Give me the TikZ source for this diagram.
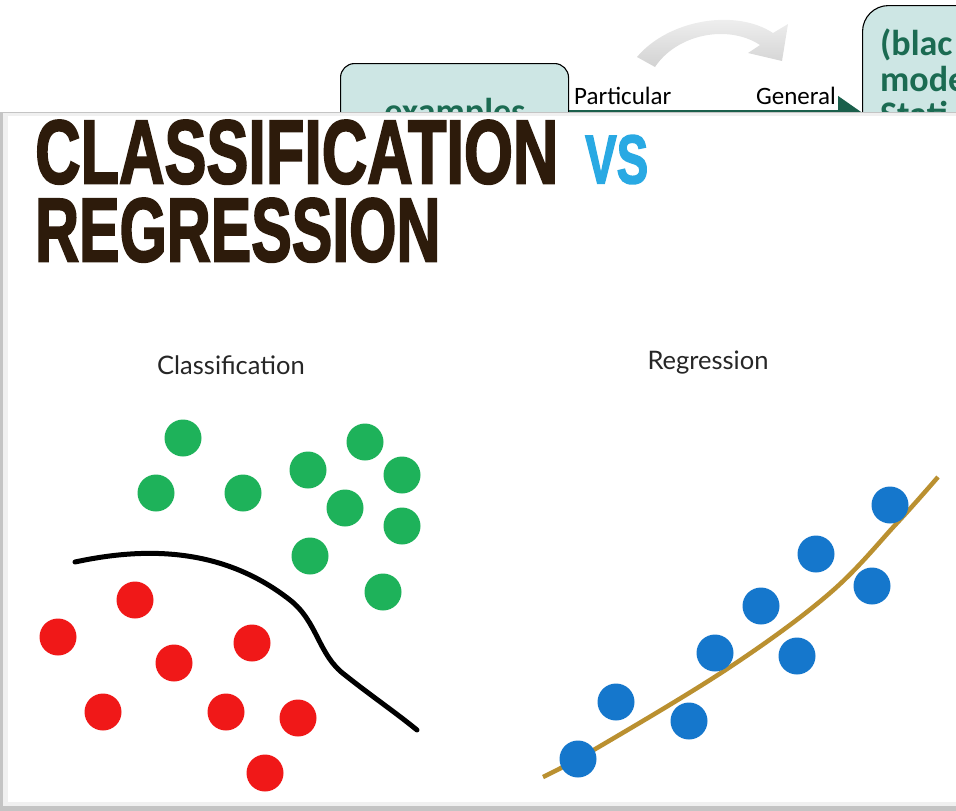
\documentclass[tikz,border=0pt]{standalone}
\usepackage{fontspec}
\usepackage{graphicx}
\setmainfont{Carlito}
\newfontfamily\titlefont{Liberation Sans}[BoldFeatures={FakeBold=2.5}]
\newfontfamily\labelfont{Lato}
\usetikzlibrary{arrows.meta}

\definecolor{boxfill}{HTML}{CDE6E4}
\definecolor{boxtext}{HTML}{1B6B52}
\definecolor{arrowgreen}{HTML}{1A5F4B}
\definecolor{titlebrown}{HTML}{2D1B0B}
\definecolor{vsblue}{HTML}{29A9E3}
\definecolor{dotgreen}{HTML}{1EB25A}
\definecolor{dotred}{HTML}{F01818}
\definecolor{dotblue}{HTML}{1577CC}
\definecolor{fitgold}{HTML}{BA9030}
\definecolor{framegray}{HTML}{C4C4C4}

\tikzset{
  slidebox/.style={draw=black, line width=1.1pt, fill=boxfill, inner sep=0pt},
  boxlabel/.style={text=boxtext, font=\bfseries\fontsize{36}{36}\selectfont, inner sep=0pt},
  flowlabel/.style={font=\fontsize{25}{25}\selectfont, inner sep=0pt},
  plotlabel/.style={font=\labelfont\fontsize{25.5}{25.5}\selectfont, text=black!85, inner sep=0pt},
  title/.style={anchor=north west, inner sep=0pt},
  dot/.style={radius=18.5pt}
}

\begin{document}
\begin{tikzpicture}[x=1pt,y=-1pt]
\useasboundingbox (0,0) rectangle (956,811);
\clip (0,0) rectangle (956,811);

% slide layer behind the picture
\node[slidebox, rounded corners=14pt, minimum width=228pt, minimum height=98pt, anchor=north west] (ex) at (340,63) {};
\node[slidebox, rounded corners=26pt, minimum width=220pt, minimum height=214pt, anchor=north west] (bb) at (862,5) {};
\node[boxlabel, anchor=base] (extext) at (455,123) {examples};
\node[boxlabel, anchor=base west] (bb1) at (880,55) {(blac};
\node[boxlabel, anchor=base west] (bb2) at (880,91) {mode};
\node[boxlabel, anchor=base west] (bb3) at (880,126) {Stati};

\draw[arrowgreen, line width=5pt, -{Triangle[length=24pt,width=32pt]}] (ex.east) -- (bb.west);
\node[flowlabel, anchor=base west] (part) at (574,104) {Particular};
\node[flowlabel, anchor=base east] (gen) at (836,104) {General};

% curved grey arrow
\shade[top color=gray!8, bottom color=gray!35]
  (637,57) .. controls (668,20) and (735,8) .. (773,33)
  -- (788,24) -- (782,61) -- (748,53) -- (760,45)
  .. controls (728,24) and (677,34) .. (655,67) -- cycle;

% framed picture
\fill[framegray] (0,112) rectangle (956,811);
\fill[gray!12] (3,113) rectangle (956,806);
\fill[white] (8,116) rectangle (956,802);

% heading
\node[title, text=titlebrown] (t1) at (35,120) {\resizebox{523pt}{63pt}{\titlefont\bfseries CLASSIFICATION}};
\node[title, text=vsblue] (t2) at (585,135) {\resizebox{63pt}{48pt}{\titlefont\bfseries VS}};
\node[title, text=titlebrown] (t3) at (35,198) {\resizebox{405pt}{63pt}{\titlefont\bfseries REGRESSION}};

\node[plotlabel] (cl) at (231,365) {Classification};
\node[plotlabel] (rg) at (708,363) {Regression};

% classification: decision boundary and two classes
\draw[black, line width=5pt, line cap=round]
  (75,562) .. controls (140,548) and (220,545) .. (290,600)
  .. controls (318,622) and (318,655) .. (345,675)
  .. controls (370,695) and (395,712) .. (417,730);
\foreach \px/\py in {183/438, 156/493, 243/493, 308/470, 365/442, 402/475, 345/508, 402/526, 310/556, 383/592}
  \fill[dotgreen] (\px,\py) circle[dot];
\foreach \px/\py in {135/600, 58/637, 174/663, 252/643, 103/712, 226/712, 298/718, 265/773}
  \fill[dotred] (\px,\py) circle[dot];

% regression: fitted curve and samples
\draw[fitgold, line width=4.5pt] plot[smooth, tension=0.6] coordinates
  {(543,777) (597,748) (730,667) (830,593) (897,523) (938,477)};
\foreach \px/\py in {890/505, 816/554, 872/586, 761/606, 715/653, 797/656, 616/702, 689/721, 578/759}
  \fill[dotblue] (\px,\py) circle[dot];
\end{tikzpicture}
\end{document}
